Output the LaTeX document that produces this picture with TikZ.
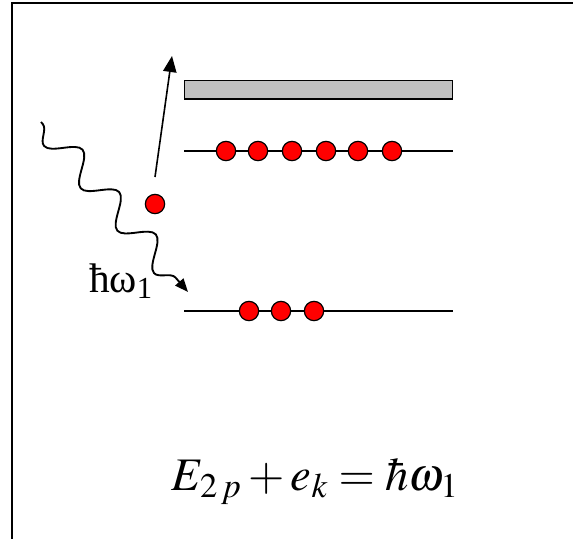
\documentclass[tikz,border=0pt]{standalone}
\usepackage{mathptmx}
\usepackage[no-math]{fontspec}
\setmainfont{Liberation Serif}
\usetikzlibrary{arrows.meta,decorations.pathmorphing,positioning}
\definecolor{bandgray}{RGB}{192,192,192}

\begin{document}
\begin{tikzpicture}[x=0.75pt, y=-0.75pt, >={Triangle[length=12pt,width=10pt]},
  electron/.style={circle, draw=black, fill=red, line width=0.9pt, minimum size=14.5pt, inner sep=0pt},
  level/.style={line width=1pt},
  band/.style={draw=black, fill=bandgray, line width=1pt, minimum width=201pt, minimum height=14pt, inner sep=0pt},
  photon/.style={line width=1.4pt, decorate, decoration={snake, mirror, segment length=42pt, amplitude=10pt, pre length=2pt, post length=10pt}}]
\useasboundingbox (0,0) rectangle (573,539);
\draw[line width=1.5pt] (573,3) -- (12,3) -- (12,539);
% continuum
\node[band] (cont) at (318.5,89.5) {};
% upper level
\coordinate (u0) at (184,151);
\coordinate (u1) at (453,151);
\draw[level] (u0) -- (u1);
\foreach \x [count=\i] in {226,258,292,326,358,392}
  \node[electron] (up\i) at (\x,151) {};
% lower level
\coordinate (l0) at (184,311);
\coordinate (l1) at (453,311);
\draw[level] (l0) -- (l1);
\foreach \x [count=\i] in {249,281,314}
  \node[electron] (lo\i) at (\x,311) {};
% ejected electron
\node[electron] (free) at (155,204) {};
\coordinate (kick) at (155,177);
\coordinate (out) at (172,56);
\draw[->, line width=1.2pt] (kick) -- (out);
% photon
\coordinate (ph0) at (41,122);
\coordinate (ph1) at (188,292);
\draw[photon, -{Triangle[length=10pt,width=8pt]}] (ph0) -- (ph1);
\node[anchor=base, font=\fontsize{31}{36}\selectfont, inner sep=0pt] (hw) at (121,292) {ħω\textsubscript{1}};
% energy balance
\node[anchor=base, font=\fontsize{35}{42}\selectfont, inner sep=0pt] (eq) at (315,490) {$E_{2\,p}+e_k=\hbar\omega_1$};
\end{tikzpicture}
\end{document}
